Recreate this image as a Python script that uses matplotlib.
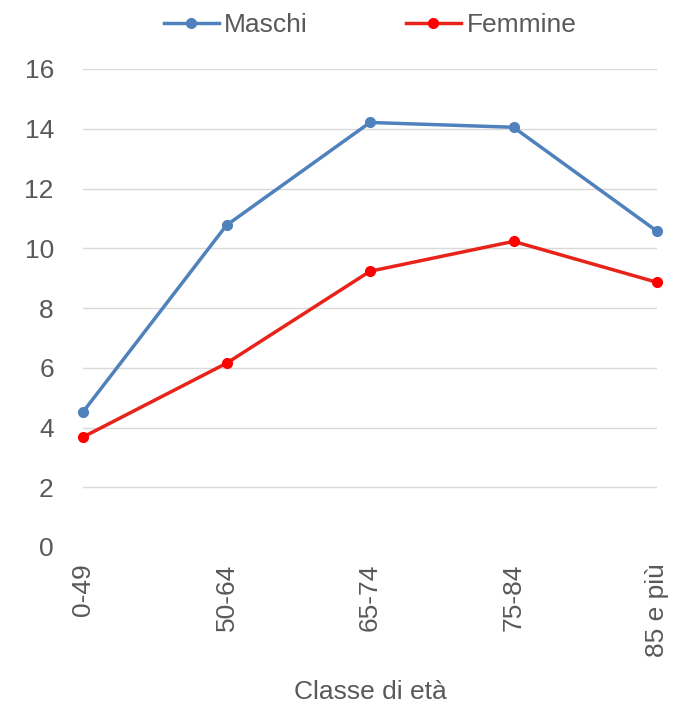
import matplotlib.pyplot as plt

plt.rcParams['font.family'] = ['Liberation Sans Narrow', 'Liberation Sans', 'DejaVu Sans']

classi = ['0-49', '50-64', '65-74', '75-84', '85 e più']
maschi = [4.52, 10.77, 14.21, 14.05, 10.57]
femmine = [3.68, 6.15, 9.23, 10.23, 8.86]

grey = '#595959'

fig = plt.figure(figsize=(6.75, 7.05), dpi=100)
ax = fig.add_axes([83 / 675, 1 - 547 / 705, (657 - 83) / 675, (547 - 69) / 705])

x = range(len(classi))
ax.plot(x, maschi, color='#4F81BD', lw=2.5, marker='o', ms=7, label='Maschi', clip_on=False, zorder=3)
ax.plot(x, femmine, color='#E8231A', lw=2.5, marker='o', ms=7, mfc='#FF0000', mec='#FF0000',
        label='Femmine', clip_on=False, zorder=3)

ax.set_xlim(0, len(classi) - 1)
ax.set_ylim(0, 16)
ax.set_yticks(range(0, 17, 2))
ax.set_xticks(list(x))
ax.set_xticklabels(classi, rotation=90)
ax.grid(axis='y', color='#D9D9D9', lw=1)
ax.yaxis.get_gridlines()[0].set_visible(False)
ax.set_axisbelow(True)
for s in ax.spines.values():
    s.set_visible(False)
ax.tick_params(length=0, labelsize=19, colors=grey, pad=12)
ax.tick_params(axis='y', pad=21)
ax.set_xlabel('Classe di età', fontsize=19, color=grey, labelpad=16)

ax.legend(loc='lower center', bbox_to_anchor=(0.5, 1.0), ncol=2, frameon=False,
          fontsize=19, labelcolor=grey, handlelength=2.1, handletextpad=0.2, columnspacing=3.7,
          borderaxespad=0.8)

fig.savefig('out.png', dpi=100)
